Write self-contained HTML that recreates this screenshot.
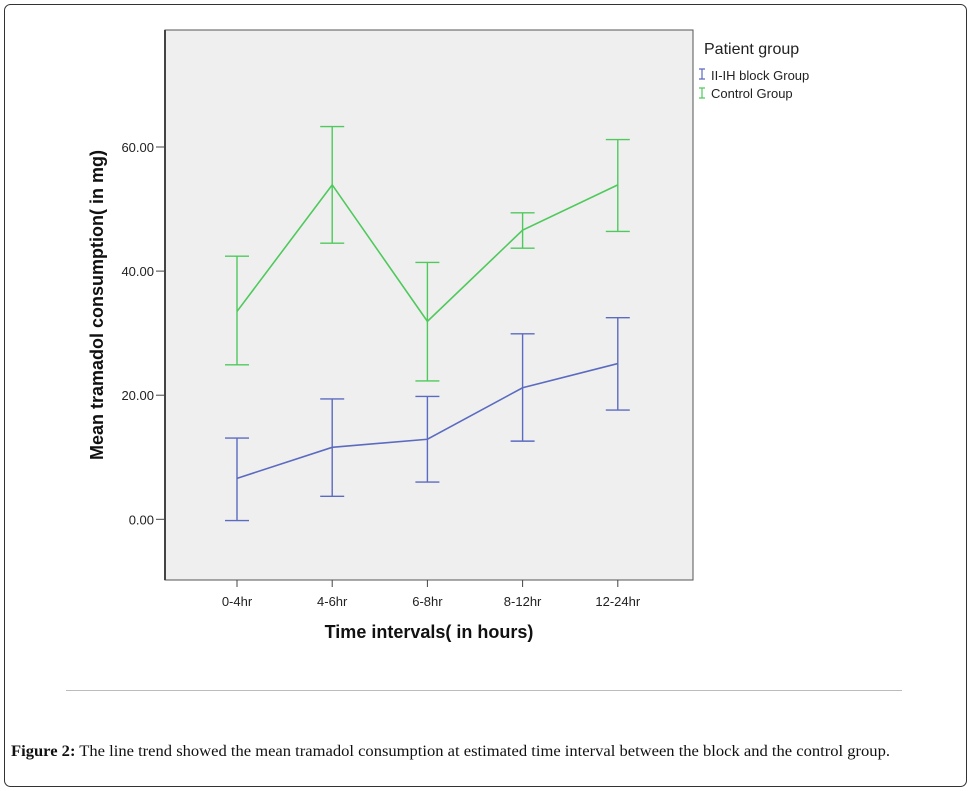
<!DOCTYPE html>
<html><head><meta charset="utf-8"><style>
body{margin:0;background:#fff;width:971px;height:791px;overflow:hidden}
svg{display:block}
</style></head><body>
<svg width="971" height="791" viewBox="0 0 971 791" font-family="Liberation Sans, Arial, sans-serif">
<rect x="4.5" y="4.5" width="962" height="782" rx="6" fill="#fff" stroke="#333" stroke-width="1"/>
<rect x="165" y="30" width="528" height="550" fill="#efefef" stroke="#555" stroke-width="1"/>
<line x1="165" y1="30" x2="165" y2="580" stroke="#444" stroke-width="2"/>
<g id="yticks"></g>
<g id="xticks"></g>
<g id="series"></g>
<text transform="translate(103,305) rotate(-90)" text-anchor="middle" font-size="18" font-weight="bold" fill="#111">Mean tramadol consumption( in mg)</text>
<text x="429" y="638" text-anchor="middle" font-size="18" font-weight="bold" fill="#111">Time intervals( in hours)</text>
<g>
<text x="704" y="54" font-size="16" fill="#222">Patient group</text>
<g><path d="M699 69h6M702 69v10M699 79h6" stroke="#5b6bc0" stroke-width="1.2" fill="none"/><text x="711" y="80" font-size="13" fill="#222">II-IH block Group</text></g>
<g><path d="M699 88h6M702 88v10M699 98h6" stroke="#4fc95c" stroke-width="1.2" fill="none"/><text x="711" y="98" font-size="13" fill="#222">Control Group</text></g>
</g>
<line x1="66" y1="690.5" x2="902" y2="690.5" stroke="#bbb"/>
<text x="11" y="756" font-family="Liberation Serif, serif" font-size="16" textLength="879" lengthAdjust="spacingAndGlyphs" fill="#111"><tspan font-weight="bold">Figure 2:</tspan> The line trend showed the mean tramadol consumption at estimated time interval between the block and the control group.</text>
</svg>
<script>
const categories=["0-4hr","4-6hr","6-8hr","8-12hr","12-24hr"];
const yTickValues=[0,20,40,60];
const yTickLabels=["0.00","20.00","40.00","60.00"];
const blockMean=[6.6,11.6,12.9,21.2,25.1];
const blockUpper=[13.1,19.4,19.8,29.9,32.5];
const blockLower=[-0.2,3.7,6.0,12.6,17.6];
const controlMean=[33.5,53.9,31.9,46.6,53.9];
const controlUpper=[42.4,63.3,41.4,49.4,61.2];
const controlLower=[24.9,44.5,22.3,43.7,46.4];
const NS="http://www.w3.org/2000/svg";
const y=v=>519.3-v*6.205;
const x=i=>237+i*95.2;
function mk(tag,attrs,parent){const e=document.createElementNS(NS,tag);for(const k in attrs)e.setAttribute(k,attrs[k]);parent.appendChild(e);return e;}
const yt=document.getElementById('yticks');
yTickValues.forEach((v,i)=>{
 const l=mk('line',{x1:156,x2:165,y1:y(v),y2:y(v),stroke:'#444'},yt);
 
 
 const t=mk('text',{x:154,y:y(v)+5,'text-anchor':'end','font-size':13,fill:'#222'},yt);
 
 
 t.textContent=yTickLabels[i];
});
const xt=document.getElementById('xticks');
categories.forEach((c,i)=>{
 const l=mk('line',{x1:x(i),x2:x(i),y1:580,y2:587,stroke:'#444'},xt);
 
 
 const t=mk('text',{x:x(i),y:606,'text-anchor':'middle','font-size':13,fill:'#222'},xt);
 
 
 t.textContent=c;
});
const sg=document.getElementById('series');
function series(mean,up,lo,color,name){
 const p=mk('polyline',{points:mean.map((v,i)=>x(i)+','+y(v)).join(' '),fill:'none',stroke:color,'stroke-width':1.6},sg);
 
 
 mean.forEach((v,i)=>{
  const e=mk('path',{d:`M${x(i)-12} ${y(up[i])}h24M${x(i)} ${y(up[i])}V${y(lo[i])}M${x(i)-12} ${y(lo[i])}h24`,fill:'none',stroke:color,'stroke-width':1.4},sg);
  
  
 });
}
series(controlMean,controlUpper,controlLower,'#4fc95c','control');
series(blockMean,blockUpper,blockLower,'#5b6bc0','block');
</script>
</body></html>
